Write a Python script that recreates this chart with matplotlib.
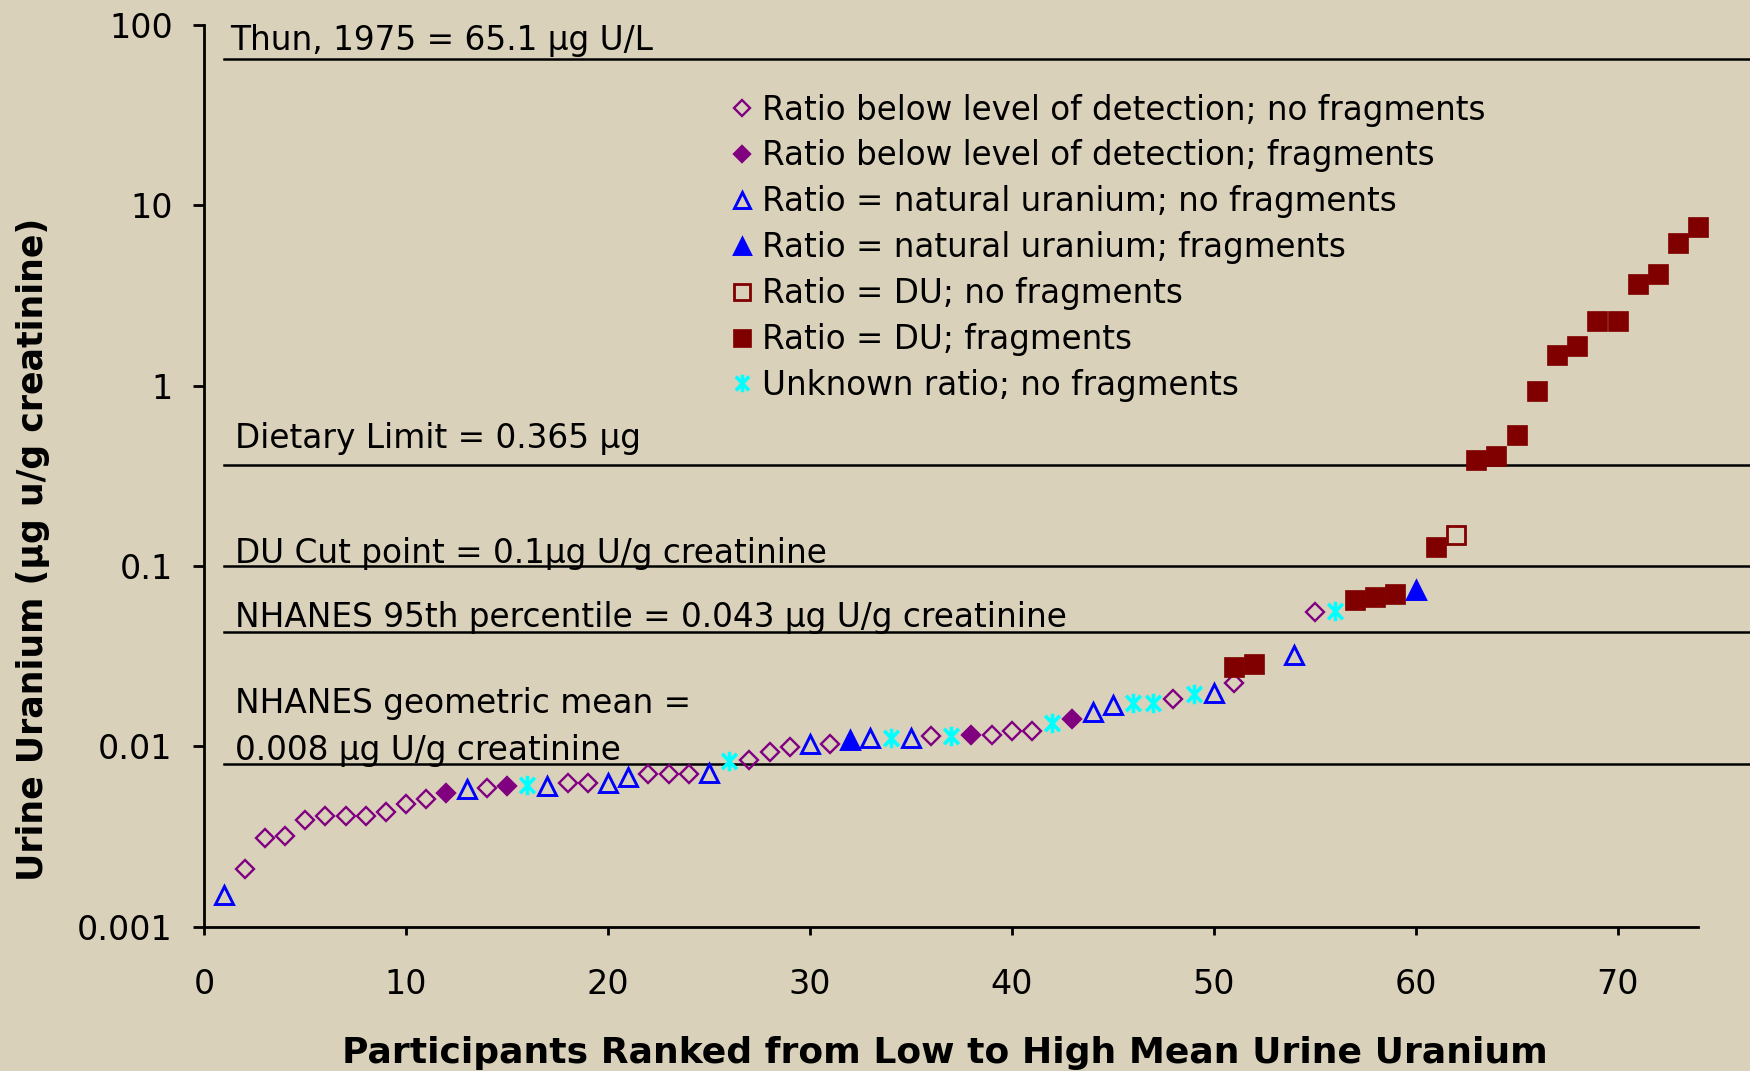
import matplotlib
matplotlib.use("Agg")
import matplotlib.pyplot as plt
from matplotlib.ticker import FixedLocator, FixedFormatter, NullLocator
from matplotlib.path import Path

# ---------------- data ----------------
# Ratio below level of detection; no fragments
x_nd_open = [2, 3, 4, 5, 6, 7, 8, 9, 10, 11, 14, 18, 19, 22, 23, 24, 27, 28, 29, 31,
             36, 39, 40, 41, 48, 51, 55]
y_nd_open = [0.0021, 0.0031, 0.0032, 0.0039, 0.0041, 0.0041, 0.0041, 0.0043, 0.0048, 0.0051,
             0.0059, 0.0063, 0.0063, 0.0070, 0.0070, 0.0070, 0.0084, 0.0093, 0.0099, 0.0103,
             0.0114, 0.0116, 0.0121, 0.0121, 0.0182, 0.0225, 0.0553]
# Ratio below level of detection; fragments
x_nd_frag = [12, 15, 38, 43]
y_nd_frag = [0.0055, 0.0060, 0.0115, 0.0141]
# Ratio = natural uranium; no fragments
x_nat_open = [1, 13, 17, 20, 21, 25, 30, 33, 35, 44, 45, 50, 54]
y_nat_open = [0.0015, 0.0058, 0.0060, 0.0063, 0.0068, 0.0071, 0.0103, 0.0111, 0.0111,
              0.0155, 0.0169, 0.0197, 0.032]
# Ratio = natural uranium; fragments
x_nat_frag = [32, 60]
y_nat_frag = [0.0108, 0.0736]
# Ratio = DU; no fragments
x_du_open = [62]
y_du_open = [0.149]
# Ratio = DU; fragments
x_du_frag = [51, 52, 57, 58, 59, 61, 63, 64, 65, 66, 67, 68, 69, 70, 71, 72, 73, 74]
y_du_frag = [0.0276, 0.0288, 0.0647, 0.0676, 0.0699, 0.127, 0.385, 0.409, 0.531, 0.94,
             1.48, 1.67, 2.29, 2.29, 3.68, 4.15, 6.17, 7.54]
# Unknown ratio; no fragments
x_unk = [16, 26, 34, 37, 42, 46, 47, 49, 56]
y_unk = [0.0061, 0.0083, 0.0111, 0.0114, 0.0135, 0.0175, 0.0175, 0.0194, 0.0562]

series_labels = [
    "Ratio below level of detection; no fragments",
    "Ratio below level of detection; fragments",
    "Ratio = natural uranium; no fragments",
    "Ratio = natural uranium; fragments",
    "Ratio = DU; no fragments",
    "Ratio = DU; fragments",
    "Unknown ratio; no fragments",
]

# reference lines
ref_values = [65.1, 0.365, 0.1, 0.043, 0.008]
ref_texts = [
    "Thun, 1975 = 65.1 \u00b5g U/L",
    "Dietary Limit = 0.365 \u00b5g",
    "DU Cut point = 0.1\u00b5g U/g creatinine",
    "NHANES 95th percentile = 0.043 \u00b5g U/g creatinine",
    "NHANES geometric mean =\n0.008 \u00b5g U/g creatinine",
]
ref_text_x = [1.28, 1.52, 1.52, 1.52, 1.52]
ref_text_y = [72.6, 0.4496, 0.1035, 0.04608, 0.0084]

y_ticks = [0.001, 0.01, 0.1, 1, 10, 100]
y_ticklabels = ["0.001", "0.01", "0.1", "1", "10", "100"]
x_ticks = [0, 10, 20, 30, 40, 50, 60, 70]

# ---------------- style ----------------
plt.rcParams['font.family'] = ['DejaVu Sans']
BG = '#DAD1BB'
PURPLE = '#800080'
BLUE = '#0000FF'
DRED = '#800000'
CYAN = '#00FFFF'

# Excel-style star marker: an X with a vertical bar
star = Path([(0, -1), (0, 1), (-0.75, -0.8), (0.75, 0.8), (-0.75, 0.8), (0.75, -0.8)],
            [Path.MOVETO, Path.LINETO, Path.MOVETO, Path.LINETO, Path.MOVETO, Path.LINETO])

fig = plt.figure(figsize=(17.5, 10.71), dpi=100, facecolor=BG)
ax = fig.add_axes([0.11669, 0.13473, 0.85377, 0.84193])
ax.set_facecolor(BG)

ax.set_yscale('log')
ax.set_xlim(0, 74)
ax.set_ylim(0.001, 100)

# reference lines (extend past the axes to the figure edge)
for v in ref_values:
    ax.plot([1.0, 80], [v, v], color='black', lw=1.8, clip_on=False, zorder=2)
for t, tx, ty in zip(ref_texts, ref_text_x, ref_text_y):
    ax.text(tx, ty, t, fontsize=23.6, va='baseline', ha='left', linespacing=1.53,
            color='black', zorder=3)

# data series
ms_d, ms_t, ms_s, ms_a = 9.6, 13, 15, 14
common = dict(ls='none', clip_on=False)
ax.plot(x_nd_open, y_nd_open, marker='D', ms=ms_d, mfc='none', mec=PURPLE,
        mew=1.7, label=series_labels[0], zorder=4, **common)
ax.plot(x_nd_frag, y_nd_frag, marker='D', ms=ms_d, mfc=PURPLE, mec=PURPLE,
        mew=1.7, label=series_labels[1], zorder=4, **common)
ax.plot(x_nat_open, y_nat_open, marker='^', ms=ms_t, mfc='none', mec=BLUE,
        mew=2.1, label=series_labels[2], zorder=4, **common)
ax.plot(x_nat_frag, y_nat_frag, marker='^', ms=ms_t, mfc=BLUE, mec=BLUE,
        mew=2.1, label=series_labels[3], zorder=4, **common)
ax.plot(x_du_open, y_du_open, marker='s', ms=ms_s - 1.5, mfc='none', mec=DRED,
        mew=2.0, label=series_labels[4], zorder=4, **common)
ax.plot(x_du_frag, y_du_frag, marker='s', ms=ms_s, mfc=DRED, mec=DRED,
        mew=0.5, label=series_labels[5], zorder=5, **common)
ax.plot(x_unk, y_unk, marker=star, ms=ms_a, mfc='none', mec=CYAN,
        mew=2.6, label=series_labels[6], zorder=4, **common)

# axes styling
for side in ('top', 'right'):
    ax.spines[side].set_visible(False)
for side in ('left', 'bottom'):
    ax.spines[side].set_linewidth(2.0)
    ax.spines[side].set_color('black')

ax.yaxis.set_major_locator(FixedLocator(y_ticks))
ax.yaxis.set_major_formatter(FixedFormatter(y_ticklabels))
ax.yaxis.set_minor_locator(NullLocator())
ax.set_xticks(x_ticks)
ax.tick_params(axis='y', direction='out', length=7.7, width=2, pad=15, labelsize=24)
ax.tick_params(axis='x', direction='out', length=6, width=2, pad=24, labelsize=24)

ax.set_xlabel("Participants Ranked from Low to High Mean Urine Uranium",
              fontsize=26, fontweight='bold', va='baseline')
ax.xaxis.set_label_coords(0.4955, -0.1512)
ax.set_ylabel("Urine Uranium (\u00b5g u/g creatinine)", fontsize=25,
              fontweight='bold', va='center')
ax.yaxis.set_label_coords(-0.1143, 0.418)

leg = ax.legend(loc='upper left', bbox_to_anchor=(0.3534, 0.924), frameon=False,
                fontsize=23.5, handlelength=0.6, handletextpad=0.3, labelspacing=0.395,
                borderpad=0, borderaxespad=0, markerscale=0.9)

fig.savefig("out.png", dpi=100, facecolor=BG)
